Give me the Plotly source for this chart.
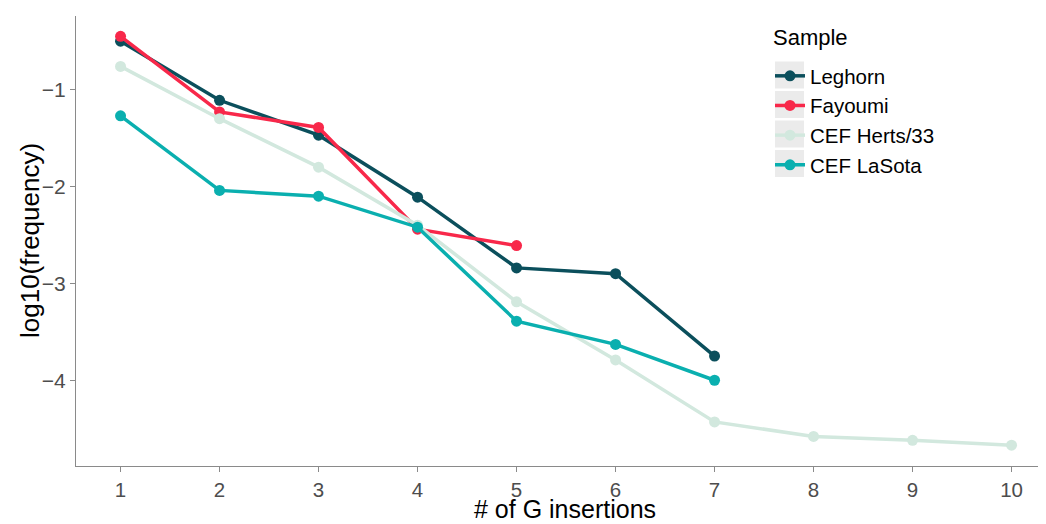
import plotly.graph_objects as go

insertions = [1, 2, 3, 4, 5, 6, 7, 8, 9, 10]
leghorn = [-0.50, -1.11, -1.47, -2.11, -2.84, -2.90, -3.75]
fayoumi = [-0.45, -1.23, -1.39, -2.44, -2.61]
herts = [-0.76, -1.30, -1.80, -2.40, -3.19, -3.79, -4.43, -4.58, -4.62, -4.67]
lasota = [-1.27, -2.04, -2.10, -2.42, -3.39, -3.63, -4.00]

series = [
    ("Leghorn", leghorn, "#0B4F5C"),
    ("Fayoumi", fayoumi, "#F8284A"),
    ("CEF Herts/33", herts, "#D2E8DE"),
    ("CEF LaSota", lasota, "#0AAFAF"),
]

O = 8  # page body margin offset
W, H = 1046 - O, 524 - O
L, R, T, B = 76 - O, 0, 16 - O, 524 - 466
PW, PH = W - L - R, H - T - B


def px(xp):
    return (xp - O - L) / PW


def py(yp):
    return 1 - (yp - O - T) / PH


fig = go.Figure()
for name, vals, col in series:
    fig.add_trace(go.Scatter(
        x=insertions[:len(vals)], y=vals, name=name, mode="lines+markers",
        line=dict(color=col, width=3.5), marker=dict(color=col, size=11),
    ))

# legend key backgrounds (ggplot style)
shapes = []
key_centers = [75, 104.5, 134, 163.5]
for yc in key_centers:
    shapes.append(dict(type="rect", xref="paper", yref="paper",
                       x0=px(775), x1=px(804),
                       y0=py(yc + 13.5), y1=py(yc - 13.5),
                       fillcolor="#EBEBEB", line=dict(width=0), layer="below"))

fig.update_layout(
    width=W, height=H,
    margin=dict(l=L, r=R, t=T, b=B, autoexpand=False),
    paper_bgcolor="white", plot_bgcolor="white",
    font=dict(family="Liberation Sans, Arial, sans-serif", color="black"),
    showlegend=True,
    shapes=shapes,
    legend=dict(
        font=dict(size=20.5, color="black"),
        xref="container", yref="container",
        x=(770 - O) / W, y=1 - (56 - O) / H, xanchor="left", yanchor="top",
        bgcolor="rgba(0,0,0,0)", itemwidth=30, tracegroupgap=0,
    ),
    xaxis=dict(
        range=[0.55, 0.55 + PW / 99.0],
        tickvals=insertions, ticktext=[str(v) for v in insertions],
        showgrid=False, zeroline=False,
        showline=True, linecolor="#8a8a8a", linewidth=1.3,
        ticks="outside", ticklen=5, tickcolor="#8a8a8a",
        tickfont=dict(size=20.5, color="#4D4D4D"),
    ),
    yaxis=dict(
        range=[-4.885, -0.24],
        tickvals=[-1, -2, -3, -4], ticktext=["\u22121", "\u22122", "\u22123", "\u22124"],
        showgrid=False, zeroline=False,
        showline=True, linecolor="#8a8a8a", linewidth=1.3,
        ticks="outside", ticklen=5, tickcolor="#8a8a8a",
        tickfont=dict(size=21, color="#4D4D4D"),
    ),
    annotations=[
        dict(text="# of G insertions", xref="paper", yref="paper",
             x=px(565), y=py(509), xanchor="center", yanchor="middle",
             showarrow=False, font=dict(size=25, color="black")),
        dict(text="log10(frequency)", xref="paper", yref="paper",
             x=px(30), y=py(241), xanchor="center", yanchor="middle",
             textangle=-90, showarrow=False, font=dict(size=26, color="black")),
        dict(text="Sample", xref="paper", yref="paper",
             x=px(771), y=py(38), xanchor="left", yanchor="middle",
             showarrow=False, font=dict(size=22, color="black")),
    ],
)

fig.write_html("out.html")
